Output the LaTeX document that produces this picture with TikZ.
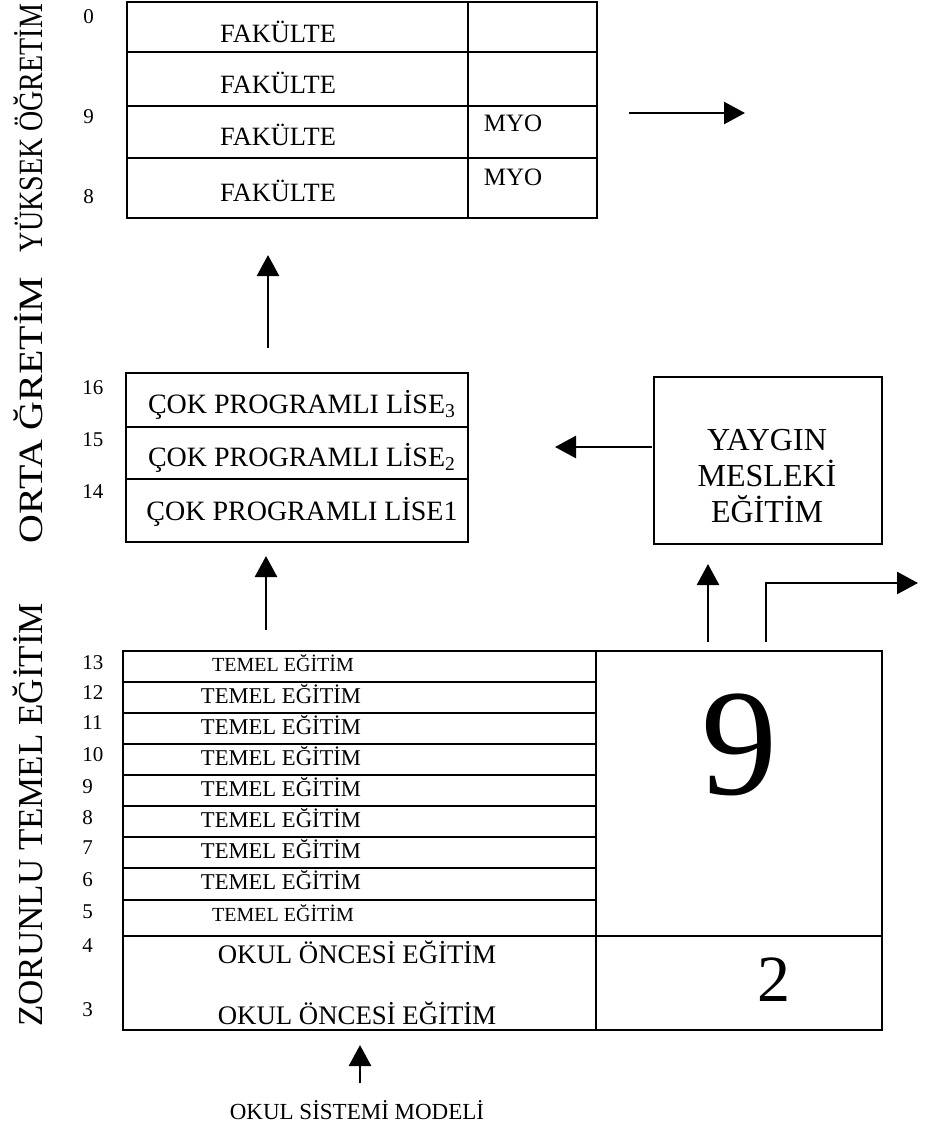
\documentclass[tikz,border=0pt]{standalone}
\usepackage{fontspec}
\usepackage{graphicx}
\setmainfont{Liberation Serif}
\usetikzlibrary{arrows.meta, positioning, calc}

\tikzset{
  frame/.style={line width=0.9pt},
  arr/.style={line width=1.3pt, -{Triangle[width=11pt, length=10.5pt]}},
  num/.style={font=\fontsize{10.5}{12}\selectfont, anchor=west, inner sep=0pt},
  fak/.style={font=\fontsize{13.2}{15}\selectfont, inner sep=0pt},
  myo/.style={font=\fontsize{12.5}{14}\selectfont, inner sep=0pt},
  lise/.style={font=\fontsize{14}{16}\selectfont, inner sep=0pt},
  temel/.style={font=\fontsize{11.3}{13}\selectfont, inner sep=0pt},
  temelsm/.style={font=\fontsize{10}{12}\selectfont, inner sep=0pt},
  okul/.style={font=\fontsize{13.4}{15}\selectfont, inner sep=0pt},
  side/.style={rotate=90, inner sep=0pt, font=\fontsize{17}{19}\selectfont}
}

\begin{document}
\begin{tikzpicture}[x=0.5pt, y=-0.5pt]
\useasboundingbox (0,0) rectangle (925,1126);

% side labels
\node[side] (lblyuk) at (28,128) {\resizebox{124pt}{\height}{YÜKSEK ÖĞRETİM}};
\node[side] (lblorta) at (28,410) {\resizebox{133pt}{\height}{ORTA ĞRETİM}};
\node[side, font=\fontsize{17.5}{19}\selectfont] (lblzor) at (28,815) {ZORUNLU TEMEL EĞİTİM};

% higher education block
\draw[frame] (127,2) rectangle (597,218);
\draw[frame] (127,52) -- (597,52);
\draw[frame] (127,106) -- (597,106);
\draw[frame] (127,158) -- (597,158);
\draw[frame] (468,2) -- (468,218);
\node[fak] (fak4) at (278,32) {FAKÜLTE};
\node[fak] (fak3) at (278,83) {FAKÜLTE};
\node[fak] (fak2) at (278,135) {FAKÜLTE};
\node[fak] (fak1) at (278,191) {FAKÜLTE};
\node[myo] (myo2) at (513,123) {MYO};
\node[myo] (myo1) at (513,177) {MYO};
\node[num] (n0) at (83,17) {0};
\node[num] (n9t) at (83,117) {9};
\node[num] (n8t) at (83,197) {8};

% secondary block
\draw[frame] (126,373) rectangle (468,542);
\draw[frame] (126,427) -- (468,427);
\draw[frame] (126,479) -- (468,479);
\node[lise] (lise3) at (302,405) {ÇOK PROGRAMLI LİSE\textsubscript{3}};
\node[lise] (lise2) at (302,458) {ÇOK PROGRAMLI LİSE\textsubscript{2}};
\node[lise] (lise1) at (302,512) {ÇOK PROGRAMLI LİSE1};
\node[num] (n16) at (82,388) {16};
\node[num] (n15) at (82,440) {15};
\node[num] (n14) at (82,492) {14};

% non-formal vocational box
\draw[frame] (654,377) rectangle (882,544);
\node[font=\fontsize{16}{18}\selectfont, align=center, inner sep=0pt]
  (yaygin) at (767,476) {YAYGIN\\MESLEKİ\\EĞİTİM};

% compulsory basic education block
\draw[frame] (123,651) rectangle (882,1030);
\draw[frame] (596,651) -- (596,1030);
\draw[frame] (123,682) -- (596,682);
\draw[frame] (123,713) -- (596,713);
\draw[frame] (123,744) -- (596,744);
\draw[frame] (123,775) -- (596,775);
\draw[frame] (123,806) -- (596,806);
\draw[frame] (123,837) -- (596,837);
\draw[frame] (123,868) -- (596,868);
\draw[frame] (123,900) -- (596,900);
\draw[frame] (123,936) -- (882,936);
\node[temelsm] (tem13) at (283,663) {TEMEL EĞİTİM};
\node[temel] (tem12) at (281,694) {TEMEL EĞİTİM};
\node[temel] (tem11) at (281,725) {TEMEL EĞİTİM};
\node[temel] (tem10) at (281,756) {TEMEL EĞİTİM};
\node[temel] (tem9) at (281,787) {TEMEL EĞİTİM};
\node[temel] (tem8) at (281,818) {TEMEL EĞİTİM};
\node[temel] (tem7) at (281,849) {TEMEL EĞİTİM};
\node[temel] (tem6) at (281,880) {TEMEL EĞİTİM};
\node[temelsm] (tem5) at (283,913) {TEMEL EĞİTİM};
\node[okul] (okul4) at (357,952) {OKUL ÖNCESİ EĞİTİM};
\node[okul] (okul3) at (357,1013) {OKUL ÖNCESİ EĞİTİM};
\node[font=\fontsize{76}{80}\selectfont, inner sep=0pt] (nine) at (739,745) {9};
\node[font=\fontsize{33}{36}\selectfont, inner sep=0pt] (two) at (774,980) {2};
\node[num] (n13) at (82,663) {13};
\node[num] (n12) at (82,693) {12};
\node[num] (n11) at (82,723) {11};
\node[num] (n10) at (82,755) {10};
\node[num] (n9) at (82,787) {9};
\node[num] (n8) at (82,818) {8};
\node[num] (n7) at (82,848) {7};
\node[num] (n6) at (82,880) {6};
\node[num] (n5) at (82,912) {5};
\node[num] (n4) at (82,946) {4};
\node[num] (n3) at (82,1010) {3};

% model caption
\node[font=\fontsize{11.5}{13}\selectfont, inner sep=0pt] (model) at (357,1110) {OKUL SİSTEMİ MODELİ};

% arrow end points
\coordinate (hiout1) at (629,113);
\coordinate (hiout2) at (745,113);
\coordinate (up1a) at (268,348);
\coordinate (up1b) at (268,255);
\coordinate (up2a) at (266,630);
\coordinate (up2b) at (266,556);
\coordinate (yayA) at (652,447);
\coordinate (yayB) at (555,447);
\coordinate (up3a) at (708,642);
\coordinate (up3b) at (708,564);
\coordinate (outa) at (766,642);
\coordinate (outb) at (918,583);
\coordinate (inA) at (360,1083);
\coordinate (inB) at (360,1045);

% arrows
\draw[arr] (hiout1) -- (hiout2);
\draw[arr] (up1a) -- (up1b);
\draw[arr] (up2a) -- (up2b);
\draw[arr] (yayA) -- (yayB);
\draw[arr] (up3a) -- (up3b);
\draw[arr] (outa) |- (outb);
\draw[arr] (inA) -- (inB);
\end{tikzpicture}
\end{document}
